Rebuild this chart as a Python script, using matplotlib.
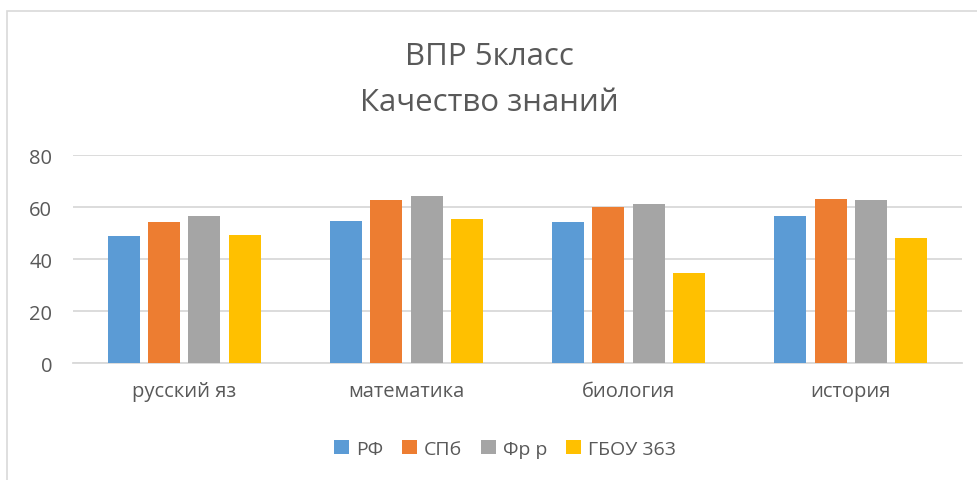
import matplotlib.pyplot as plt
import numpy as np
from matplotlib.patches import Rectangle

# data
subjects = ["русский яз", "математика", "биология", "история"]
series_names = ["РФ", "СПб", "Фр р", "ГБОУ 363"]
rf = [48.7, 54.6, 54.3, 56.4]
spb = [54.1, 62.7, 60.0, 63.1]
frr = [56.7, 64.3, 61.2, 62.6]
gbou = [49.4, 55.3, 34.6, 48.0]
yticks = [0, 20, 40, 60, 80]

colors = ["#5B9BD5", "#ED7D31", "#A5A5A5", "#FFC000"]
txt = "#595959"
plt.rcParams['font.family'] = ['Open Sans', 'DejaVu Sans']

fig = plt.figure(figsize=(9.78, 4.81), dpi=100)
ax = fig.add_axes([73/978, 1-364/481, (962-73)/978, (364-156)/481])

x = np.arange(len(subjects))
slot = 0.1815
width = 0.144
for i, (vals, name) in enumerate(zip([rf, spb, frr, gbou], series_names)):
    ax.bar(x + (i-1.5)*slot, vals, width, color=colors[i], label=name, zorder=3)

ax.set_xlim(-0.5, len(subjects)-0.5)
ax.set_ylim(0, 80)
ax.set_yticks(yticks)
ax.set_xticks(x)
ax.set_xticklabels(subjects)
ax.tick_params(axis='both', length=0, labelsize=14.5, colors=txt)
ax.tick_params(axis='y', pad=15)
ax.tick_params(axis='x', pad=13)
ax.grid(axis='y', color="#D9D9D9", lw=1.3, zorder=0)
for s in ['top', 'right', 'left']:
    ax.spines[s].set_visible(False)
ax.spines['bottom'].set_color("#D9D9D9")
ax.spines['bottom'].set_linewidth(1.3)

fig.text(0.5, 1-57/481, "ВПР 5класс", ha='center', va='center', fontsize=22.5, color=txt)
fig.text(0.5, 1-103/481, "Качество знаний", ha='center', va='center', fontsize=22.5, color=txt)

fig.legend(loc='center', bbox_to_anchor=(505/978, 1-450/481), ncol=4, frameon=False,
           fontsize=14, labelcolor=txt, handlelength=0.75, handleheight=0.75,
           handletextpad=0.35, columnspacing=1.0)

# outer chart border
fig.patches.append(Rectangle((7/978, -0.1), 1.2, 1.1-12/481, transform=fig.transFigure,
                             fill=False, edgecolor="#D9D9D9", lw=1.2))

fig.savefig("out.png", dpi=100)
